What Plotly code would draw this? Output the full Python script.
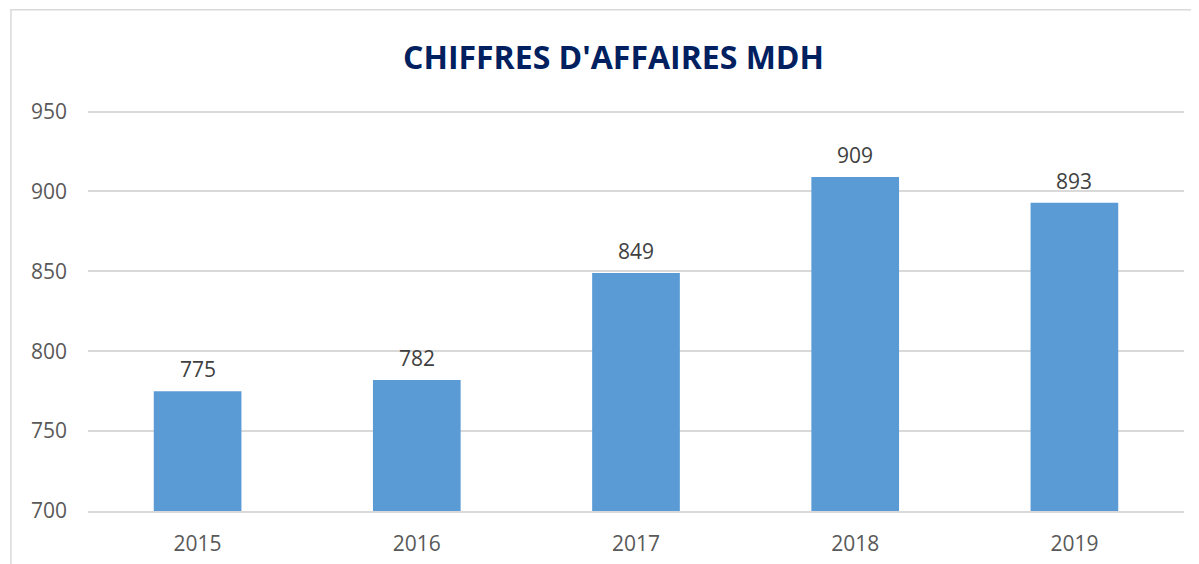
import plotly.graph_objects as go

years = ["2015", "2016", "2017", "2018", "2019"]
values = [775, 782, 849, 909, 893]
y_ticks = [700, 750, 800, 850, 900, 950]

fig = go.Figure()
fig.add_trace(go.Bar(
    x=years, y=values,
    marker=dict(color="#5B9BD5", line=dict(width=0)),
    hoverinfo="x+y",
))

for i, v in enumerate(values):
    fig.add_annotation(
        x=i, y=v, text=str(v), showarrow=False,
        yanchor="bottom", yshift=6,
        font=dict(family="Open Sans", size=21, color="#404040"),
    )

fig.add_shape(
    type="rect", xref="paper", yref="paper",
    x0=-0.0703, x1=1.2, y0=-0.5, y1=1.25,
    line=dict(color="#D9D9D9", width=1.5), fillcolor="rgba(0,0,0,0)",
    layer="below",
)

fig.update_layout(
    width=1199, height=564,
    margin=dict(l=80, r=23, t=102, b=61),
    paper_bgcolor="white", plot_bgcolor="white",
    bargap=0.6,
    showlegend=False,
    title=dict(
        text="<b>CHIFFRES D'AFFAIRES MDH</b>",
        x=0.505, xanchor="center", y=0.911, yanchor="middle",
        font=dict(family="Open Sans", size=32, color="#002060"),
    ),
    font=dict(family="Open Sans", color="#595959"),
)
fig.update_yaxes(
    range=[700, 951], tickvals=y_ticks,
    showgrid=True, gridcolor="#D9D9D9", gridwidth=1.5,
    zeroline=False, showline=False,
    tickfont=dict(family="Open Sans", size=21, color="#595959"),
    ticklabelstandoff=20,
)
fig.update_xaxes(
    type="category", range=[-0.5, 4.5],
    showgrid=False, showline=True, linecolor="#D9D9D9", linewidth=1.5,
    tickfont=dict(family="Open Sans", size=21, color="#595959"),
    ticklabelstandoff=13,
)

fig.write_html("out.html")
